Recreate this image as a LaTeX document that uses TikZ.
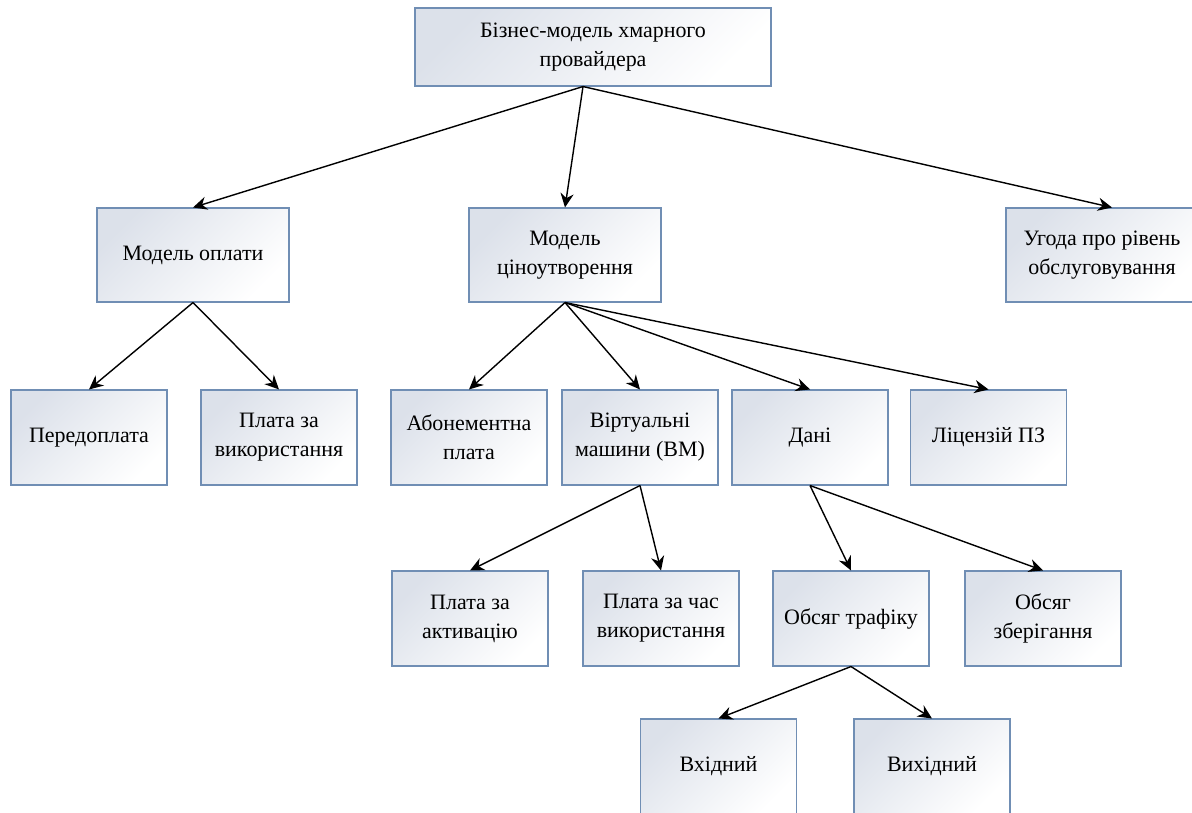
\documentclass[tikz,border=0pt]{standalone}
\usepackage{fontspec}
\setmainfont{Liberation Serif}
\usetikzlibrary{arrows.meta}
\definecolor{ramka}{RGB}{112,142,180}
\definecolor{tinj}{RGB}{220,225,234}

\begin{document}
\begin{tikzpicture}[
		blok/.style = {draw = ramka, line width = 0.6pt, top color = tinj, bottom color = white, shading angle = 45,
			minimum width = 3.12cm, minimum height = 1.9cm, align = center, inner sep = 2pt,
			font = \fontsize{12.5}{16.5}\selectfont},
		shyrokyi/.style = {blok, minimum width = 3.84cm, minimum height = 1.88cm},
		strilka/.style = {-{Stealth[length = 8pt, width = 7.5pt]}, line width = 0.8pt}
	]
		\useasboundingbox (0,0) rectangle (23.84,-16.24);
		\node[blok, minimum width = 7.12cm, minimum height = 1.56cm] (biz) at (11.86,-0.94) {Бізнес-модель хмарного\\провайдера};
		\node[shyrokyi] (oplata) at (3.86,-5.1) {Модель оплати};
		\node[shyrokyi] (cina) at (11.3,-5.1) {Модель\\ціноутворення};
		\node[shyrokyi] (ugoda) at (22.04,-5.1) {Угода про рівень\\обслуговування};
		\node[blok] (pered) at (1.78,-8.75) {Передоплата};
		\node[blok] (vykor) at (5.58,-8.75) {Плата за\\використання};
		\node[blok] (abon) at (9.38,-8.75) {Абонементна\\плата};
		\node[blok] (vm) at (12.8,-8.75) {Віртуальні\\машини (ВМ)};
		\node[blok] (dani) at (16.2,-8.75) {Дані};
		\node[blok] (lic) at (19.77,-8.75) {Ліцензій ПЗ};
		\node[blok] (aktyv) at (9.4,-12.37) {Плата за\\активацію};
		\node[blok] (chas) at (13.22,-12.37) {Плата за час\\використання};
		\node[blok] (trafik) at (17.02,-12.37) {Обсяг трафіку};
		\node[blok] (zber) at (20.86,-12.37) {Обсяг\\зберігання};
		\node[blok] (vhid) at (14.37,-15.33) {Вхідний};
		\node[blok] (vyhid) at (18.64,-15.33) {Вихідний};
		\draw[strilka] ([xshift=-0.2cm]biz.south) -- (oplata.north);
		\draw[strilka] ([xshift=-0.2cm]biz.south) -- (cina.north);
		\draw[strilka] ([xshift=-0.2cm]biz.south) -- ([xshift=0.2cm]ugoda.north);
		\draw[strilka] (oplata.south) -- (pered.north);
		\draw[strilka] (oplata.south) -- (vykor.north);
		\draw[strilka] (cina.south) -- (abon.north);
		\draw[strilka] (cina.south) -- (vm.north);
		\draw[strilka] (cina.south) -- (dani.north);
		\draw[strilka] (cina.south) -- (lic.north);
		\draw[strilka] (vm.south) -- (aktyv.north);
		\draw[strilka] (vm.south) -- (chas.north);
		\draw[strilka] (dani.south) -- (trafik.north);
		\draw[strilka] (dani.south) -- (zber.north);
		\draw[strilka] (trafik.south) -- (vhid.north);
		\draw[strilka] (trafik.south) -- (vyhid.north);
	\end{tikzpicture}
\end{document}
